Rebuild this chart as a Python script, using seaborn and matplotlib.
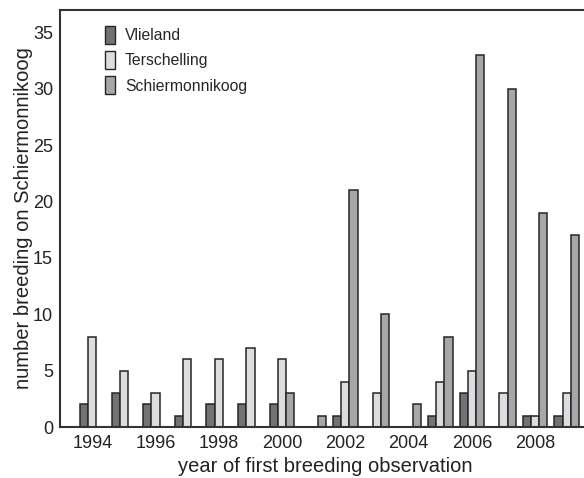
import matplotlib
matplotlib.use("Agg")
import matplotlib.pyplot as plt
import seaborn as sns
import pandas as pd
from matplotlib.patches import Patch

years = list(range(1994, 2010))
vlieland = [2, 3, 2, 1, 2, 2, 2, 0, 1, 0, 0, 1, 3, 0, 1, 1]
terschelling = [8, 5, 3, 6, 6, 7, 6, 0, 4, 3, 0, 4, 5, 3, 1, 3]
schiermonnikoog = [0, 0, 0, 0, 0, 0, 3, 1, 21, 10, 2, 8, 33, 30, 19, 17]
series = ["Vlieland", "Terschelling", "Schiermonnikoog"]
colors = ["#727275", "#dcdddf", "#a6a7ab"]
tick_years = [1994, 1996, 1998, 2000, 2002, 2004, 2006, 2008]

rows = []
for name, vals in zip(series, [vlieland, terschelling, schiermonnikoog]):
    for y, v in zip(years, vals):
        rows.append({"year": str(y), "island": name, "count": v})
df = pd.DataFrame(rows)

sns.set_style("white")
plt.rcParams['font.family'] = ['Liberation Sans', 'DejaVu Sans']

fig = plt.figure(figsize=(5.84, 4.78), dpi=100)
ax = fig.add_axes([60/584, 51/478, 1 - 60/584 + 0.01, 417/478])

sns.barplot(data=df, x="year", y="count", hue="island", hue_order=series,
            palette=colors, order=[str(y) for y in years], width=0.78,
            edgecolor="#262626", linewidth=1.1, ax=ax, legend=False, errorbar=None,
            saturation=1)

ax.set_xlim(-1.02, 15.73)
ax.set_ylim(0, 37)
ax.set_yticks(range(0, 36, 5))
ax.set_xticks([years.index(y) for y in tick_years])
ax.set_xticklabels([str(y) for y in tick_years])
ax.tick_params(axis='y', direction='in', length=7.5, width=1.0, color="#333333",
               labelsize=13, pad=5, labelcolor="#222222")
ax.tick_params(axis='x', length=0, labelsize=13, pad=6, labelcolor="#222222")
ax.set_xlabel("year of first breeding observation", fontsize=14.5, color="#222222", labelpad=3)
ax.set_ylabel("number breeding on Schiermonnikoog", fontsize=14.5, color="#222222", labelpad=0)

for s in ["left", "bottom", "top"]:
    ax.spines[s].set_visible(True)
    ax.spines[s].set_color("#333333")
    ax.spines[s].set_linewidth(1.5)
ax.spines["right"].set_visible(False)

handles = [Patch(facecolor=c, edgecolor="#262626", linewidth=1.0) for c in colors]
ax.legend(handles, series, loc="upper left", bbox_to_anchor=(0.084, 0.962),
          frameon=False, fontsize=11.3, handlelength=0.7, handleheight=1.4,
          labelspacing=0.45, handletextpad=0.6, borderpad=0, borderaxespad=0)

fig.savefig("out.png", dpi=100)
